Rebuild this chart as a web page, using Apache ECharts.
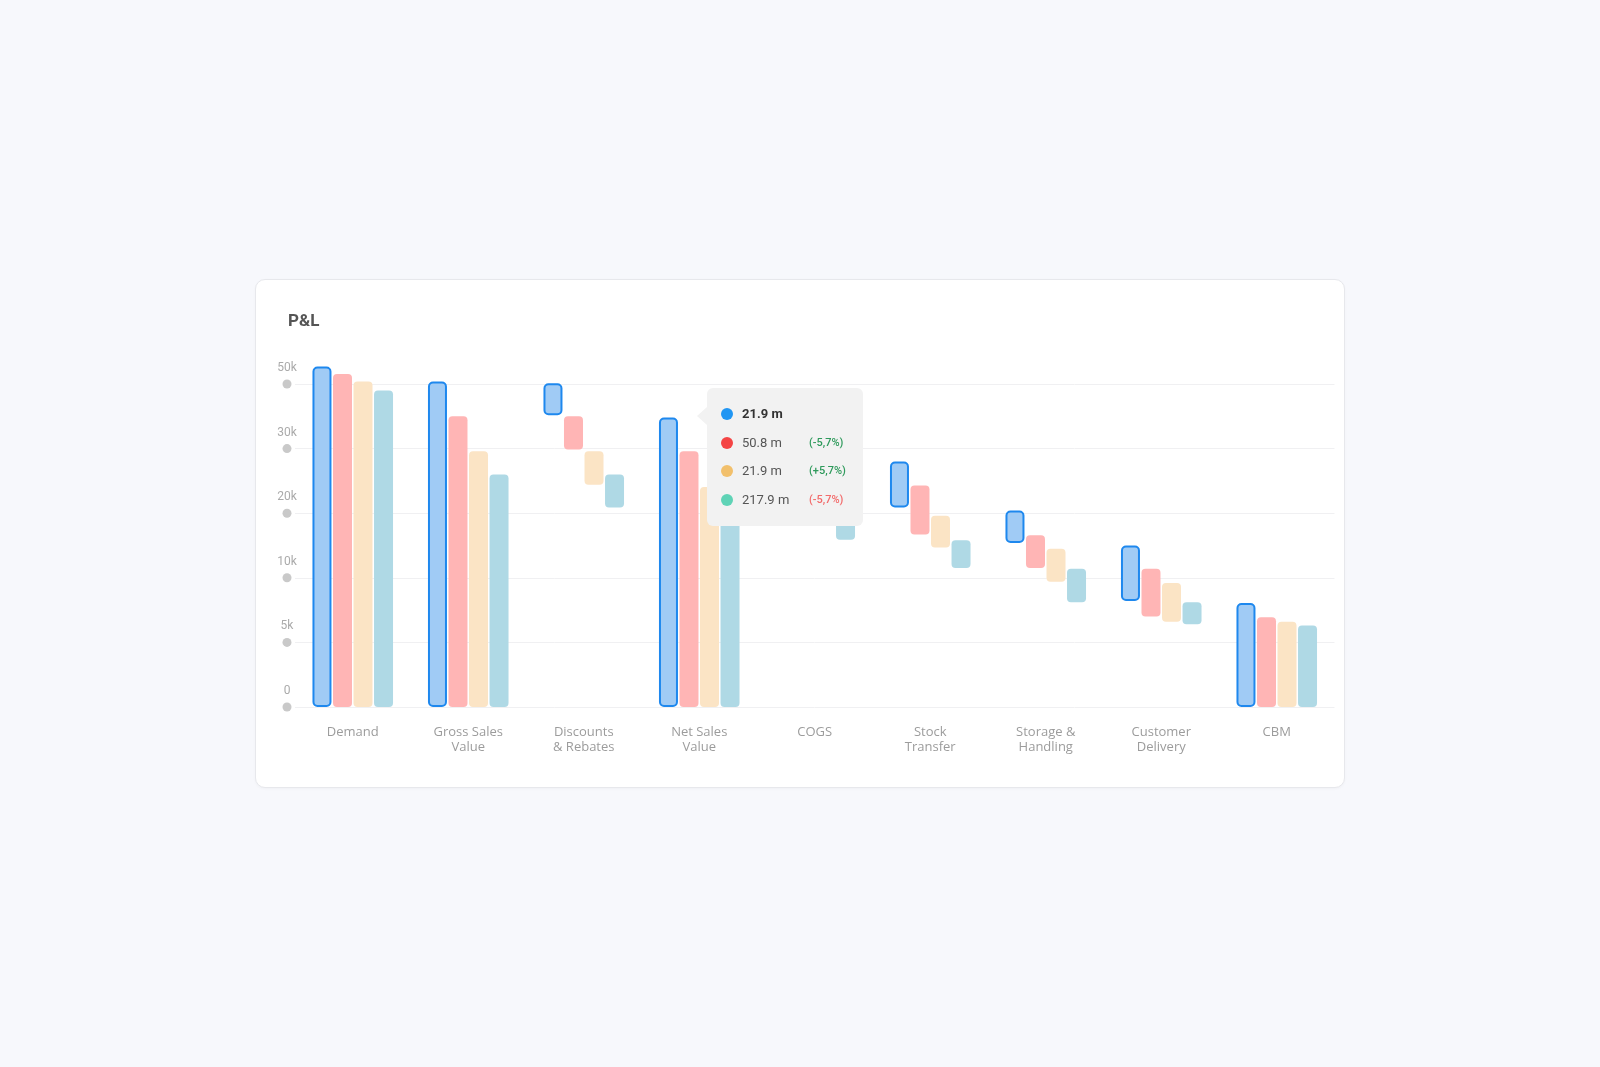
<!DOCTYPE html>
<html>
<head>
<meta charset="utf-8">
<title>P&amp;L</title>
<script src="https://cdn.jsdelivr.net/npm/echarts@6/dist/echarts.min.js"></script>
<style>
  html, body { margin: 0; padding: 0; background: #f7f8fc; }
  #card {
    position: absolute;
    left: 255px;
    top: 279px;
    width: 1090px;
    height: 509px;
    background: #fff;
    border: 1px solid #e7e8ec;
    border-radius: 10px;
    box-sizing: border-box;
    box-shadow: 0 1px 3px rgba(0, 0, 0, 0.03);
  }
</style>
</head>
<body>
<div id="card"></div>
<script>
// categories and y ticks (values in thousands)
const categories = ['Demand', 'Gross Sales\nValue', 'Discounts\n& Rebates', 'Net Sales\nValue', 'COGS',
  'Stock\nTransfer', 'Storage &\nHandling', 'Customer\nDelivery', 'CBM'];
const yTickValues = [0, 5, 10, 20, 30, 50];
const yTickLabels = ['0', '5k', '10k', '20k', '30k', '50k'];

// bar tops / bottoms per series
const blueHigh = [55.4, 50.8, 50.2, 39.6, 39.6, 28.0, 20.4, 15.0, 8.05];
const blueLow = [0, 0, 40.3, 0, 28.0, 20.9, 15.4, 8.2, 0];
const redHigh = [53.1, 40.0, 40.0, 29.6, 29.6, 24.3, 16.6, 11.4, 6.95];
const redLow = [0, 0, 29.85, 0, 24.3, 16.7, 11.5, 7.0, 0];
const yellowHigh = [50.8, 29.6, 29.6, 24.05, 24.05, 19.6, 14.5, 9.6, 6.6];
const yellowLow = [0, 0, 24.4, 0, 19.6, 14.7, 9.7, 6.6, 0];
const tealHigh = [48.0, 26.0, 26.0, 20.9, 20.9, 15.8, 11.4, 8.1, 6.3];
const tealLow = [0, 0, 20.9, 0, 15.9, 11.5, 8.1, 6.4, 0];

// tooltip rows
const tipValues = ['21.9 m', '50.8 m', '21.9 m', '217.9 m'];
const tipChanges = ['', '(-5,7%)', '(+5,7%)', '(-5,7%)'];
const tipDots = ['#2196f3', '#f44444', '#f2c06c', '#5fd3b6'];
const tipChangeColors = ['', '#2f9a5c', '#2f9a5c', '#f26b6b'];

// y axis ticks are evenly spaced, so map values onto tick index space
function toUnit(v) {
  const n = yTickValues.length;
  if (v >= yTickValues[n - 1]) {
    return (n - 1) + (v - yTickValues[n - 1]) / (yTickValues[n - 1] - yTickValues[n - 2]);
  }
  for (let i = 1; i < n; i++) {
    if (v <= yTickValues[i]) {
      return (i - 1) + (v - yTickValues[i - 1]) / (yTickValues[i] - yTickValues[i - 1]);
    }
  }
  return 0;
}

class FloatingBars {
  constructor(instance, config) {
    this.instance = instance;
    this.config = config;
  }

  buildSeries() {
    const out = [];
    this.config.groups.forEach(g => {
      out.push({
        type: 'bar',
        stack: g.key,
        silent: true,
        barWidth: 19,
        barGap: '8%',
        clip: false,
        itemStyle: { color: 'transparent' },
        emphasis: { disabled: true },
        tooltip: { show: false },
        data: g.low.map(toUnit)
      });
      out.push({
        type: 'bar',
        name: g.key,
        stack: g.key,
        barWidth: 19,
        barGap: '8%',
        clip: false,
        itemStyle: Object.assign({ borderRadius: 4 }, g.style),
        emphasis: { disabled: true },
        data: g.high.map((h, i) => toUnit(h) - toUnit(g.low[i]))
      });
    });
    return out;
  }

  tipHtml() {
    let html = '<div style="position:relative;width:156px;height:138px;font-family:Roboto,sans-serif;">';
    html += '<div style="position:absolute;left:-10px;top:19px;width:0;height:0;border-top:9px solid transparent;' +
      'border-bottom:9px solid transparent;border-right:10px solid #f2f2f2;"></div>';
    tipValues.forEach((v, i) => {
      const top = 12 + i * 28.5;
      html += '<div style="position:absolute;left:0;top:' + top + 'px;width:156px;height:28.5px;">';
      html += '<span style="position:absolute;left:13.5px;top:8.25px;width:12px;height:12px;border-radius:6px;background:' + tipDots[i] + ';"></span>';
      html += '<span style="position:absolute;left:35px;top:0;line-height:28.5px;font-size:13px;color:' +
        (i === 0 ? '#333' : '#555') + ';font-weight:' + (i === 0 ? 700 : 400) + ';">' + v + '</span>';
      if (tipChanges[i]) {
        html += '<span style="position:absolute;left:102px;top:0;line-height:28.5px;font-size:11px;font-weight:500;color:' +
          tipChangeColors[i] + ';">' + tipChanges[i] + '</span>';
      }
      html += '</div>';
    });
    html += '</div>';
    return html;
  }

  init() {
    const options = {
      animation: false,
      title: {
        text: 'P&L',
        left: 27,
        top: 28,
        textStyle: { fontFamily: 'Roboto', fontSize: 17, fontWeight: 'bold', color: '#555' }
      },
      tooltip: {
        trigger: 'item',
        triggerOn: 'none',
        alwaysShowContent: true,
        transitionDuration: 0,
        padding: 0,
        borderWidth: 0,
        backgroundColor: '#f2f2f2',
        extraCssText: 'box-shadow:none;border-radius:6px;',
        position: () => this.config.tipPos,
        formatter: () => this.tipHtml()
      },
      grid: { left: 39, top: 104, width: 1039.5, height: 323 },
      xAxis: {
        type: 'category',
        data: this.config.categories,
        axisLine: { show: false },
        axisTick: { show: false },
        axisLabel: {
          margin: 18,
          interval: 0,
          fontFamily: 'Open Sans',
          fontSize: 13,
          lineHeight: 15,
          color: '#9c9c9c'
        }
      },
      yAxis: {
        type: 'value',
        min: 0,
        max: yTickValues.length - 1,
        interval: 1,
        axisLine: { show: false },
        axisTick: { show: false },
        splitLine: { lineStyle: { color: '#f0f0f2', width: 1 } },
        axisLabel: {
          margin: 8,
          align: 'center',
          formatter: v => '{a|' + yTickLabels[v] + '}\n{b|}\n{c| }',
          rich: {
            a: { fontFamily: 'Roboto', fontSize: 12, color: '#aaa', lineHeight: 16, align: 'center' },
            b: { width: 9, height: 9, borderRadius: 4.5, backgroundColor: '#c9c9c9', lineHeight: 16, align: 'center' },
            c: { fontSize: 12, lineHeight: 16 }
          }
        }
      },
      series: this.buildSeries()
    };
    this.instance.setOption(options);
    this.instance.dispatchAction({ type: 'showTip', seriesIndex: 1, dataIndex: 3 });
  }
}

const chart = echarts.init(document.getElementById('card'));
new FloatingBars(chart, {
  categories: categories,
  tipPos: [451, 108],
  groups: [
    { key: 'blue', high: blueHigh, low: blueLow, style: { color: '#a0cbf5', borderColor: '#1e88ee', borderWidth: 2 } },
    { key: 'red', high: redHigh, low: redLow, style: { color: '#ffb5b5' } },
    { key: 'yellow', high: yellowHigh, low: yellowLow, style: { color: '#fbe4c5' } },
    { key: 'teal', high: tealHigh, low: tealLow, style: { color: '#afd9e5' } }
  ]
}).init();
</script>
</body>
</html>
